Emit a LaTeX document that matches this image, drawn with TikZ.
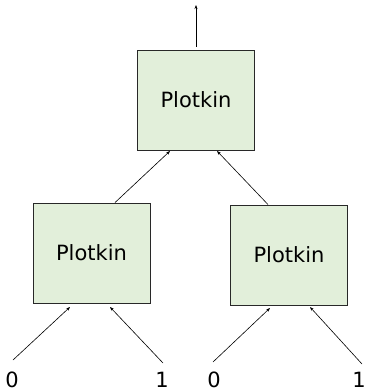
\documentclass[tikz,border=0pt]{standalone}
\usepackage{fontspec}
\setmainfont{DejaVu Sans}
\usetikzlibrary{arrows.meta}
\definecolor{boxfill}{RGB}{226,239,218}
\definecolor{boxline}{RGB}{40,40,40}
\tikzset{
  pbox/.style={draw=boxline, line width=0.9pt, fill=boxfill, minimum width=117pt, minimum height=100pt, inner sep=0pt, font=\fontsize{21}{24}\selectfont},
  conn/.style={line width=0.6pt, -{Stealth[length=4pt,width=3pt]}},
  lbl/.style={inner sep=0pt, font=\fontsize{21}{24}\selectfont}
}
\begin{document}
\begin{tikzpicture}[x=1pt,y=-1pt]
\useasboundingbox (0,0) rectangle (365,391);
\node[pbox] (top) at (196,100) {Plotkin};
\node[pbox] (left) at (91.5,253) {Plotkin};
\node[pbox] (right) at (289,255) {Plotkin};
\coordinate (out) at (196,5);
\coordinate (topin1) at (170,151);
\coordinate (topin2) at (217,151);
\coordinate (lin1) at (70,307);
\coordinate (lin2) at (110,307);
\coordinate (rin1) at (270,308);
\coordinate (rin2) at (310,307);
\coordinate (s1) at (13,360);
\coordinate (s2) at (163,363);
\coordinate (s3) at (213,362);
\coordinate (s4) at (362,364);
\node[lbl] (l0) at (12,379.5) {0};
\node[lbl] (l1) at (162,379.5) {1};
\node[lbl] (r0) at (214,379.5) {0};
\node[lbl] (r1) at (359,379.5) {1};
\draw[conn] (top.north) ++(0,-3) coordinate (topout) -- (out);
\draw[conn] (left.north) ++(23.5,0) coordinate (la) -- (topin1);
\draw[conn] (right.north) ++(-21,0) coordinate (ra) -- (topin2);
\draw[conn] (s1) -- (lin1);
\draw[conn] (s2) -- (lin2);
\draw[conn] (s3) -- (rin1);
\draw[conn] (s4) -- (rin2);
\end{tikzpicture}
\end{document}
